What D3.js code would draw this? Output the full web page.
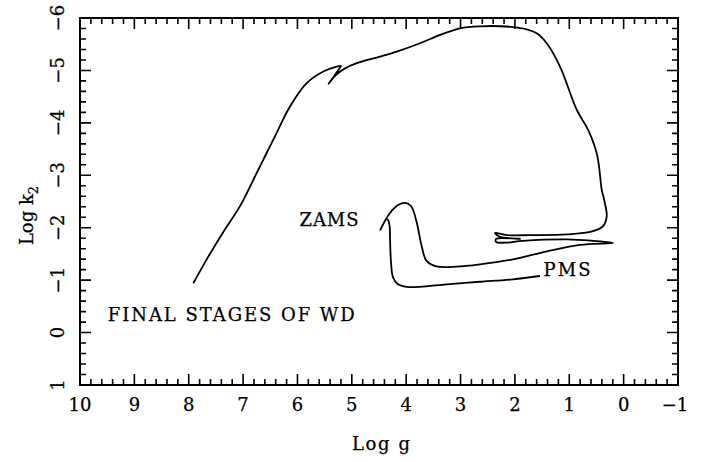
<!DOCTYPE html>
<html>
<head>
<meta charset="utf-8">
<script src="https://cdn.jsdelivr.net/npm/d3@7"></script>
<style>
  html, body { margin: 0; padding: 0; background: #fff; }
  svg { display: block; }
  text { font-family: "DejaVu Serif", "Liberation Serif", serif; fill: #000; }
</style>
</head>
<body>
<svg id="chart" width="720" height="462"></svg>
<script>
// ---------------- data ----------------
const xMajorTicks = [10, 9, 8, 7, 6, 5, 4, 3, 2, 1, 0, -1];
const yMajorTicks = [1, 0, -1, -2, -3, -4, -5, -6];

// Main evolutionary track (ZAMS -> giant branch -> ... -> final stages of WD)
const trackLogG = [
  4.481, 4.371, 4.260, 4.150, 4.021, 3.911, 3.810, 3.718, 3.626, 3.442, 3.074,
  2.642, 2.035, 1.409, 0.802, 0.195,
  0.563, 1.041, 1.851, 2.182, 2.347, 2.347, 1.906, 2.274, 2.366, 2.145, 1.722,
  1.041, 0.563, 0.379, 0.311, 0.360, 0.403, 0.489, 0.655, 0.863, 1.170, 1.415,
  1.599, 1.782, 2.150, 2.642, 3.010, 3.377, 3.745, 4.174, 4.481, 4.910, 5.125,
  5.291, 5.429, 5.346, 5.254, 5.199, 5.278, 5.524, 5.830, 6.137, 6.444, 6.749,
  7.057, 7.369, 7.669, 7.916
];
const trackLogK2 = [
  -1.948, -2.167, -2.329, -2.433, -2.475, -2.414, -2.119, -1.663, -1.368, -1.263, -1.258,
  -1.302, -1.397, -1.549, -1.672, -1.710,
  -1.749, -1.777, -1.749, -1.714, -1.730, -1.787, -1.787, -1.825, -1.901, -1.859, -1.859,
  -1.872, -1.935, -2.030, -2.220, -2.538, -2.728, -3.394, -3.870, -4.250, -5.074, -5.519,
  -5.709, -5.785, -5.838, -5.842, -5.804, -5.677, -5.519, -5.359, -5.264, -5.138, -5.039,
  -4.916, -4.745, -4.859, -5.001, -5.087, -5.074, -4.979, -4.758, -4.313, -3.679, -3.046,
  -2.411, -1.910, -1.397, -0.940
];

// Pre-main-sequence track
const pmsLogG = [1.538, 2.035, 2.642, 3.254, 3.745, 3.990, 4.150, 4.242, 4.279, 4.297, 4.306, 4.334, 4.380];
const pmsLogK2 = [-1.079, -1.016, -0.969, -0.921, -0.873, -0.873, -0.921, -1.054, -1.340, -1.777, -2.043, -2.148, -2.167];

// annotations (data coordinates)
const noteText = ["ZAMS", "PMS", "FINAL STAGES OF WD"];
const noteLogG = [5.42, 1.04, 9.49];
const noteLogK2 = [-2.03, -1.07, -0.22];
const noteAnchor = ["middle", "middle", "start"];
const noteWidth = [59, 47, 247];

// ---------------- layout ----------------
const svg = d3.select("#chart");
const mLeft = 80, mRight = 678, mTop = 18, mBottom = 385;

const x = d3.scaleLinear().domain([10, -1]).range([mLeft, mRight]);
const y = d3.scaleLinear().domain([-6, 1]).range([mTop, mBottom]);

const xMinor = d3.range(0, 56).map(i => -1 + i * 0.2);
const yMinor = d3.range(0, 36).map(i => -6 + i * 0.2);
const isMajor = v => Math.abs(v - Math.round(v)) < 1e-6;

const major = 11, minor = 6;

// frame
svg.append("rect")
  .attr("x", mLeft).attr("y", mTop)
  .attr("width", mRight - mLeft).attr("height", mBottom - mTop)
  .attr("fill", "none").attr("stroke", "#000").attr("stroke-width", 2);

// ticks (inward on all four sides): comb-shaped polylines along each side
function comb(values, pos, base, dir, horizontal) {
  const pts = [];
  values.forEach(v => {
    const L = isMajor(v) ? major : minor, p = pos(v);
    if (horizontal) { pts.push([p, base], [p, base + dir * L], [p, base]); }
    else { pts.push([base, p], [base + dir * L, p], [base, p]); }
  });
  return d3.line()(pts);
}
const tickStyle = sel => sel.attr("fill", "none").attr("stroke", "#000")
  .attr("stroke-width", 1.6).attr("stroke-linejoin", "miter");
svg.append("path").attr("d", comb(xMinor, x, mBottom, -1, true)).call(tickStyle);
svg.append("path").attr("d", comb(xMinor, x, mTop, 1, true)).call(tickStyle);
svg.append("path").attr("d", comb(yMinor, y, mLeft, 1, false)).call(tickStyle);
svg.append("path").attr("d", comb(yMinor, y, mRight, -1, false)).call(tickStyle);

const fmt = v => (v < 0 ? "\u2212" + Math.abs(v) : String(v));

// x tick labels
svg.append("g").selectAll("text").data(xMajorTicks).join("text")
  .attr("x", d => x(d) + (d < 0 ? -3 : 0))
  .attr("y", 411)
  .attr("text-anchor", "middle")
  .attr("font-size", 18)
  .attr("stroke", "#000").attr("stroke-width", 0.25)
  .text(fmt);

// y tick labels (rotated)
svg.append("g").selectAll("text").data(yMajorTicks).join("text")
  .attr("transform", d => `translate(64,${y(d)}) rotate(-90)`)
  .attr("text-anchor", "middle")
  .attr("font-size", 18)
  .attr("stroke", "#000").attr("stroke-width", 0.25)
  .text(fmt);

// axis titles
svg.append("text")
  .attr("x", 381).attr("y", 450)
  .attr("text-anchor", "middle").attr("font-size", 18)
  .attr("stroke", "#000").attr("stroke-width", 0.25)
  .attr("textLength", 58).attr("lengthAdjust", "spacing")
  .text("Log g");

const yt = svg.append("text")
  .attr("transform", `translate(33,${(mTop + mBottom) / 2 + 14}) rotate(-90)`)
  .attr("text-anchor", "middle").attr("font-size", 18)
  .attr("stroke", "#000").attr("stroke-width", 0.25);
yt.append("tspan").text("Log k");
yt.append("tspan").attr("font-size", 13).attr("dy", 5).text("2");

// tracks
const line = d3.line()
  .x(d => x(d[0])).y(d => y(d[1]))
  .curve(d3.curveCatmullRom.alpha(0.5));

const mainTrack = d3.zip(trackLogG, trackLogK2);
const pmsTrack = d3.zip(pmsLogG, pmsLogK2);

svg.append("path").datum(mainTrack)
  .attr("d", line).attr("fill", "none").attr("stroke", "#000")
  .attr("stroke-width", 1.8).attr("stroke-linejoin", "round");
svg.append("path").datum(pmsTrack)
  .attr("d", line).attr("fill", "none").attr("stroke", "#000")
  .attr("stroke-width", 1.8).attr("stroke-linejoin", "round");

// annotations
svg.append("g").selectAll("text").data(noteText).join("text")
  .attr("x", (d, i) => x(noteLogG[i]) - (noteAnchor[i] === "middle" ? noteWidth[i] / 2 : 0))
  .attr("y", (d, i) => y(noteLogK2[i]))
  .attr("font-size", 18)
  .attr("stroke", "#000").attr("stroke-width", 0.25)
  .attr("textLength", (d, i) => noteWidth[i]).attr("lengthAdjust", "spacing")
  .text(d => d);
</script>
</body>
</html>
